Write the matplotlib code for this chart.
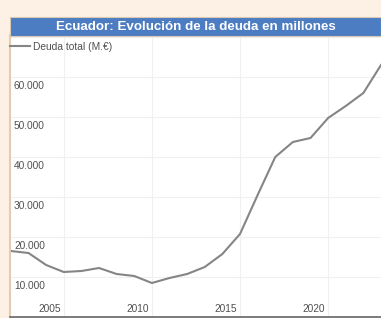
import matplotlib
matplotlib.use("Agg")
import matplotlib.pyplot as plt
from matplotlib.patches import Rectangle

plt.rcParams['font.family'] = ['Liberation Sans', 'DejaVu Sans']

# -------------------- datos --------------------
years = [2002, 2003, 2004, 2005, 2006, 2007, 2008, 2009, 2010, 2011, 2012,
         2013, 2014, 2015, 2016, 2017, 2018, 2019, 2020, 2021, 2022, 2023]
deuda = [16500, 16000, 13000, 11250, 11500, 12250, 10750, 10250, 8500, 9750, 10750,
         12500, 15750, 20750, 30500, 40000, 43750, 44750, 49750, 52750, 56000, 63000]

x_ticks = [2005, 2010, 2015, 2020]
y_ticks = [10000, 20000, 30000, 40000, 50000, 60000, 70000]
y_labels = ["10.000", "20.000", "30.000", "40.000", "50.000", "60.000", ""]

titulo = "Ecuador: Evolución de la deuda en millones"
serie = "Deuda total (M.€)"

# -------------------- figura --------------------
W, H = 381, 318
fig = plt.figure(figsize=(W / 100, H / 100), dpi=100)
fig.patch.set_facecolor("#fcf1e4")

ax = fig.add_axes([10 / W, 1 / H, 1 - 10 / W, (317 - 35) / H])
ax.set_facecolor("white")

# barra del titulo
fig.patches.append(Rectangle((10 / W, (H - 36) / H), 1 - 10 / W, 19 / H,
                             transform=fig.transFigure, facecolor="#4c7cc1",
                             edgecolor="#d9c9b4", lw=0.8))
fig.text((10 + W) / 2 / W, (H - 26.5) / H, titulo, color="white",
         fontsize=9.6, fontweight="bold", ha="center", va="center")

ax.plot(years, deuda, color="#858585", lw=1.5, label=serie,
        solid_joinstyle="round")

ax.set_xlim(2001.95, 2023.0)
ax.set_ylim(0, 70500)

ax.set_xticks(x_ticks)
ax.set_yticks(y_ticks)
ax.set_xticklabels([])
ax.set_yticklabels([])
ax.tick_params(length=0)
ax.grid(True, color="#f0f0f0", lw=0.8)

for y, lab in zip(y_ticks, y_labels):
    ax.annotate(lab, xy=(0, y), xycoords=("axes fraction", "data"),
                xytext=(4, -4), textcoords="offset pixels",
                ha="left", va="top", fontsize=7.3, color="#505050")
for x in x_ticks:
    ax.annotate(str(x), xy=(x, 0), xycoords=("data", "axes fraction"),
                xytext=(-3, 3), textcoords="offset pixels",
                ha="right", va="bottom", fontsize=7.3, color="#505050")

for s in ["top", "right"]:
    ax.spines[s].set_visible(False)
ax.spines["left"].set_color("#e2cdb0")
ax.spines["left"].set_linewidth(1.5)
ax.spines["bottom"].set_color("#666666")
ax.spines["bottom"].set_linewidth(1.2)

leg = ax.legend(loc="upper left", bbox_to_anchor=(0, 1 - 7 / 282), frameon=False,
                fontsize=7.4, handlelength=1.9, handletextpad=0.35,
                borderaxespad=0, borderpad=0)
for t in leg.get_texts():
    t.set_color("#505050")

fig.savefig("out.png", dpi=100, facecolor=fig.get_facecolor())
